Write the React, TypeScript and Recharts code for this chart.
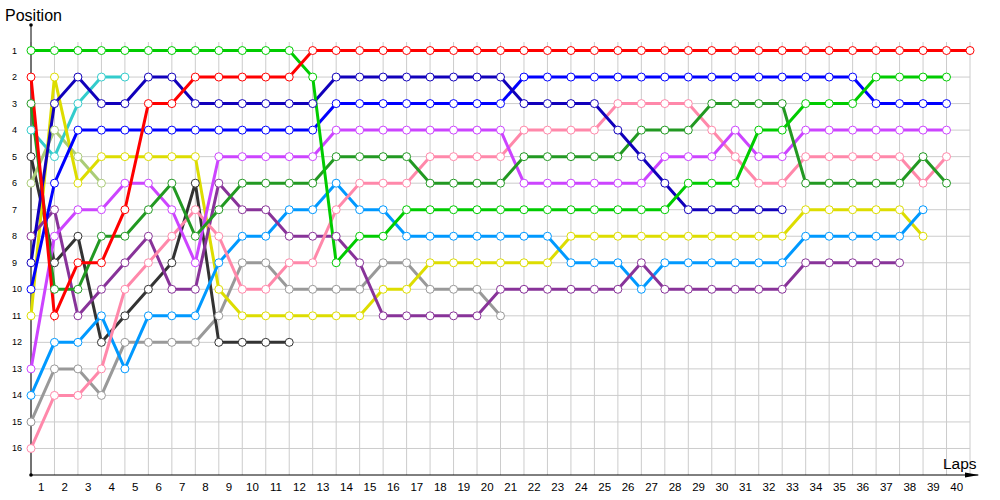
import React from 'react';
import { LineChart, Line, XAxis, YAxis, ReferenceLine } from 'recharts';

const laps = [0, 1, 2, 3, 4, 5, 6, 7, 8, 9, 10, 11, 12, 13, 14, 15, 16, 17, 18, 19, 20, 21, 22, 23, 24, 25, 26, 27, 28, 29, 30, 31, 32, 33, 34, 35, 36, 37, 38, 39, 40];
const lapLabels = [1, 2, 3, 4, 5, 6, 7, 8, 9, 10, 11, 12, 13, 14, 15, 16, 17, 18, 19, 20, 21, 22, 23, 24, 25, 26, 27, 28, 29, 30, 31, 32, 33, 34, 35, 36, 37, 38, 39, 40];
const positions = [1, 2, 3, 4, 5, 6, 7, 8, 9, 10, 11, 12, 13, 14, 15, 16];

// position of each car at the end of every lap (lap 0 = grid)
const red = [2, 11, 9, 9, 7, 3, 3, 2, 2, 2, 2, 2, 1, 1, 1, 1, 1, 1, 1, 1, 1, 1, 1, 1, 1, 1, 1, 1, 1, 1, 1, 1, 1, 1, 1, 1, 1, 1, 1, 1, 1];
const green = [1, 1, 1, 1, 1, 1, 1, 1, 1, 1, 1, 1, 2, 9, 8, 8, 7, 7, 7, 7, 7, 7, 7, 7, 7, 7, 7, 7, 6, 6, 6, 4, 4, 3, 3, 3, 2, 2, 2, 2];
const navy = [9, 3, 2, 3, 3, 2, 2, 3, 3, 3, 3, 3, 3, 2, 2, 2, 2, 2, 2, 2, 2, 3, 3, 3, 3, 4, 5, 6, 7, 7, 7, 7, 7];
const blue = [10, 6, 4, 4, 4, 4, 4, 4, 4, 4, 4, 4, 4, 3, 3, 3, 3, 3, 3, 3, 3, 2, 2, 2, 2, 2, 2, 2, 2, 2, 2, 2, 2, 2, 2, 2, 3, 3, 3, 3];
const cyan = [4, 5, 3, 2, 2];
const yellow = [11, 2, 6, 5, 5, 5, 5, 5, 10, 11, 11, 11, 11, 11, 11, 10, 10, 9, 9, 9, 9, 9, 9, 8, 8, 8, 8, 8, 8, 8, 8, 8, 8, 7, 7, 7, 7, 7, 8];
const olive = [6, 4, 5, 6];
const darkGreen = [3, 10, 10, 8, 8, 7, 6, 8, 7, 6, 6, 6, 6, 5, 5, 5, 5, 6, 6, 6, 6, 5, 5, 5, 5, 5, 4, 4, 4, 3, 3, 3, 3, 6, 6, 6, 6, 6, 5, 6];
const violet = [13, 8, 7, 7, 6, 6, 7, 9, 5, 5, 5, 5, 5, 4, 4, 4, 4, 4, 4, 4, 4, 6, 6, 6, 6, 6, 6, 5, 5, 5, 4, 5, 5, 4, 4, 4, 4, 4, 4, 4];
const purple = [8, 7, 11, 10, 9, 8, 10, 10, 6, 7, 7, 8, 8, 8, 9, 11, 11, 11, 11, 11, 10, 10, 10, 10, 10, 10, 9, 10, 10, 10, 10, 10, 10, 9, 9, 9, 9, 9];
const pink = [16, 14, 14, 13, 10, 9, 8, 7, 8, 10, 10, 9, 9, 7, 6, 6, 6, 5, 5, 5, 5, 4, 4, 4, 4, 3, 3, 3, 3, 4, 5, 6, 6, 5, 5, 5, 5, 5, 6, 5];
const lightBlue = [14, 12, 12, 11, 13, 11, 11, 11, 9, 8, 8, 7, 7, 6, 7, 7, 8, 8, 8, 8, 8, 8, 8, 9, 9, 9, 10, 9, 9, 9, 9, 9, 9, 8, 8, 8, 8, 8, 7];
const gray = [15, 13, 13, 14, 12, 12, 12, 12, 11, 9, 9, 10, 10, 10, 10, 9, 9, 10, 10, 10, 11];
const black = [5, 9, 8, 12, 11, 10, 9, 6, 12, 12, 12, 12];

const cars = [
  { key: 'gray', color: '#999999', values: gray },
  { key: 'black', color: '#333333', values: black },
  { key: 'olive', color: '#aacc77', values: olive },
  { key: 'cyan', color: '#33cccc', values: cyan },
  { key: 'yellow', color: '#dddd00', values: yellow },
  { key: 'lightBlue', color: '#0099ff', values: lightBlue },
  { key: 'purple', color: '#883399', values: purple },
  { key: 'pink', color: '#ff88aa', values: pink },
  { key: 'violet', color: '#cc44ff', values: violet },
  { key: 'darkGreen', color: '#229922', values: darkGreen },
  { key: 'blue', color: '#0000ff', values: blue },
  { key: 'navy', color: '#1100bb', values: navy },
  { key: 'green', color: '#00cc00', values: green },
  { key: 'red', color: '#ff0000', values: red },
];

const data = laps.map((lap, i) => {
  const row: Record<string, number | undefined> = { lap };
  cars.forEach((c) => {
    row[c.key] = c.values[i];
  });
  return row;
});

const font = '"Liberation Sans", Arial, sans-serif';

const LeftTick = (props: any) => (
  <text x={12} y={props.y} dy={3} fontSize={9} fontFamily={font} fill="#000" textAnchor="start">
    {props.payload.value}
  </text>
);

const RightTick = (props: any) => (
  <text x={977} y={props.y} dy={3} fontSize={9} fontFamily={font} fill="#000" textAnchor="start">
    {props.payload.value}
  </text>
);

export default function App() {
  return (
    <div style={{ position: 'absolute', left: 0, top: 0, width: 1000, height: 500, background: '#fff' }}>
      <LineChart width={1000} height={500} data={data} margin={{ top: 24, right: 0, bottom: 0, left: 0 }}>
        <XAxis
          dataKey="lap"
          type="number"
          domain={[0, 40]}
          ticks={lapLabels.map((l) => l - 0.5)}
          tickFormatter={(v: number) => String(v + 0.5)}
          interval={0}
          axisLine={false}
          tickLine={false}
          height={25}
          tick={{ fontSize: 11.5, fill: '#000', fontFamily: font, dx: -1.5 }}
        />
        <YAxis
          yAxisId="left"
          type="number"
          domain={[0, 17]}
          reversed
          ticks={positions}
          interval={0}
          width={31}
          axisLine={false}
          tickLine={false}
          tick={<LeftTick />}
        />
        <YAxis
          yAxisId="right"
          orientation="right"
          type="number"
          domain={[0, 17]}
          reversed
          ticks={positions}
          interval={0}
          width={30}
          axisLine={false}
          tickLine={false}
          tick={<RightTick />}
        />
        {positions.map((p) => (
          <ReferenceLine
            key={`h${p}`}
            yAxisId="left"
            segment={[{ x: 0, y: p }, { x: 40, y: p }]}
            stroke="#cccccc"
            strokeWidth={1}
          />
        ))}
        {laps.map((l) => (
          <ReferenceLine
            key={`v${l}`}
            yAxisId="left"
            segment={[{ x: l, y: 0.68 }, { x: l, y: 17 }]}
            stroke="#cccccc"
            strokeWidth={1}
          />
        ))}
        <ReferenceLine yAxisId="left" segment={[{ x: 0, y: 0 }, { x: 0, y: 17 }]} stroke="#000" strokeWidth={1} />
        <ReferenceLine
          yAxisId="left"
          segment={[{ x: 0, y: 17 }, { x: 40.35, y: 17 }]}
          stroke="#000"
          strokeWidth={1}
          ifOverflow="visible"
        />
        {cars.map((c) => (
          <Line
            key={c.key}
            yAxisId="left"
            dataKey={c.key}
            type="linear"
            stroke={c.color}
            strokeWidth={3}
            dot={{ r: 4, fill: '#fff', stroke: c.color, strokeWidth: 1 }}
            activeDot={false}
            isAnimationActive={false}
          />
        ))}
      </LineChart>
      <svg
        width={1000}
        height={500}
        style={{ position: 'absolute', left: 0, top: 0, pointerEvents: 'none' }}
      >
        <text x={5} y={21} fontSize={16} fontFamily={font} fill="#000">
          Position
        </text>
        <text x={943} y={469} fontSize={15.5} fontFamily={font} fill="#000">
          Laps
        </text>
        <circle cx={31} cy={25} r={1.8} fill="#000" />
        <circle cx={31} cy={475} r={1.8} fill="#000" />
        <polygon points="965,472.5 979,475 965,477.5" fill="#000" />
      </svg>
    </div>
  );
}
